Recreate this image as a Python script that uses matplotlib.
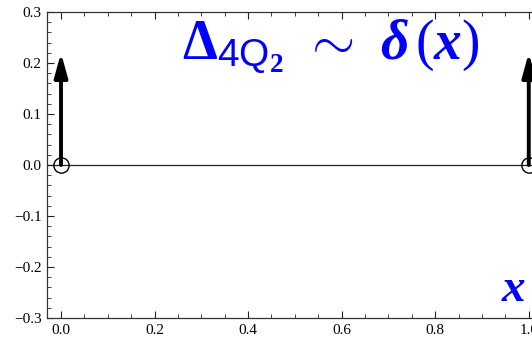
import matplotlib
matplotlib.use("Agg")
import matplotlib.pyplot as plt
from matplotlib.ticker import MultipleLocator

# delta peaks at the ends of the interval
x_peaks = [0.0, 1.0]
h_peaks = [0.22, 0.22]
x_line = [-0.03, 1.03]

plt.rcParams['font.family'] = ['Liberation Serif', 'DejaVu Serif']
plt.rcParams['mathtext.fontset'] = 'custom'
plt.rcParams['mathtext.rm'] = 'Liberation Serif'
plt.rcParams['mathtext.it'] = 'Liberation Serif:italic'
plt.rcParams['mathtext.bf'] = 'Liberation Serif:bold'
plt.rcParams['mathtext.bfit'] = 'Liberation Serif:italic:bold'
plt.rcParams['mathtext.sf'] = 'Liberation Sans'

fig = plt.figure(figsize=(5.32, 3.42), dpi=100)
ax = fig.add_axes([0.0883, 0.070, 0.932, 0.895])

ax.plot(x_line, [0, 0], color='#222222', lw=0.9, zorder=1)
for xp, hp in zip(x_peaks, h_peaks):
    ax.annotate('', xy=(xp, hp), xytext=(xp, 0),
                arrowprops=dict(arrowstyle='-|>,head_length=0.8,head_width=0.22',
                                color='black', lw=2.8,
                                mutation_scale=18, shrinkA=0, shrinkB=0),
                zorder=3)
ax.plot(x_peaks, [0, 0], 'o', mfc='none', mec='black', ms=11, mew=1.0,
        clip_on=False, zorder=4)

ax.set_xlim(-0.03, 1.03)
ax.set_ylim(-0.3, 0.3)
ax.xaxis.set_major_locator(MultipleLocator(0.2))
ax.xaxis.set_minor_locator(MultipleLocator(0.05))
ax.yaxis.set_major_locator(MultipleLocator(0.1))
ax.yaxis.set_minor_locator(MultipleLocator(0.02))
ax.xaxis.set_major_formatter(plt.FuncFormatter(lambda v, p: f"{v:.1f}".replace('-', '\u2212')))
ax.yaxis.set_major_formatter(plt.FuncFormatter(lambda v, p: f"{v:.1f}".replace('-', '\u2212')))
ax.tick_params(which='both', direction='in', top=True, right=True,
               labelsize=11, colors='#222222', labelcolor='black')
ax.tick_params(which='major', length=5, width=0.8, pad=4)
ax.tick_params(which='minor', length=3, width=0.6)
for s in ax.spines.values():
    s.set_color('#333333')
    s.set_linewidth(0.9)

ax.text(0.258, 0.207,
        r"$\mathbf{\Delta}_{\mathsf{4Q}\mathbf{_2}}\;\,\sim\;\,\mathbfit{\delta}\,(\mathbfit{x})$",
        color='#0000ff', fontsize=40, ha='left', va='baseline')
ax.text(0.94, -0.245, r"$\mathbfit{x}$", color='#0000ff', fontsize=34,
        ha='left', va='center')

fig.savefig("out.png", dpi=100)
